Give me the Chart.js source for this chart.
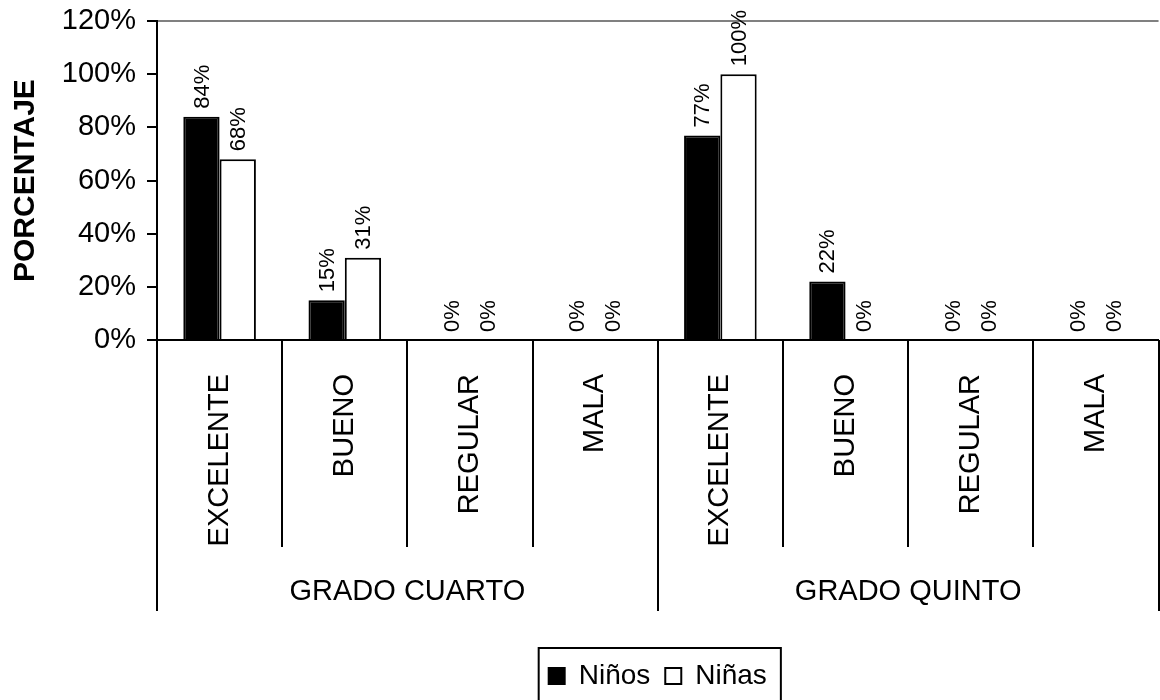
<!DOCTYPE html>
<html>
<head>
<meta charset="utf-8">
<script src="https://cdn.jsdelivr.net/npm/chart.js@4/dist/chart.umd.min.js"></script>
<style>
  html, body { margin: 0; padding: 0; background: #fff; overflow: hidden; }
  #wrap { width: 1165px; height: 700px; }
</style>
</head>
<body>
<div id="wrap"><canvas id="myChart" width="1165" height="700" role="img" aria-label="chart"></canvas></div>
<script>
// Datos del grafico
const categorias = ['EXCELENTE', 'BUENO', 'REGULAR', 'MALA', 'EXCELENTE', 'BUENO', 'REGULAR', 'MALA'];
const grupos = ['GRADO CUARTO', 'GRADO QUINTO'];
const ninos = [84, 15, 0, 0, 77, 22, 0, 0];
const ninas = [68, 31, 0, 0, 100, 0, 0, 0];
const yTicks = [0, 20, 40, 60, 80, 100, 120];

const FONT = 'Arial, "Liberation Sans", sans-serif';

// etiquetas de valor giradas encima de cada barra
const valueLabels = {
  id: 'valueLabels',
  afterDatasetsDraw(chart) {
    const ctx = chart.ctx;
    ctx.save();
    ctx.fillStyle = '#000';
    ctx.font = '22px ' + FONT;
    ctx.textAlign = 'left';
    ctx.textBaseline = 'middle';
    chart.data.datasets.forEach((ds, i) => {
      const meta = chart.getDatasetMeta(i);
      meta.data.forEach((bar, j) => {
        ctx.save();
        ctx.translate(bar.x, bar.y - 8);
        ctx.rotate(-Math.PI / 2);
        ctx.fillText(ds.data[j] + '%', 0, 1);
        ctx.restore();
      });
    });
    ctx.restore();
  }
};

// lineas bajo el eje, nombres de grupo y marco de la leyenda
const groupAxis = {
  id: 'groupAxis',
  afterDraw(chart) {
    const ctx = chart.ctx;
    const xs = chart.scales.x;
    const n = categorias.length;
    const w = xs.width / n;
    const perGroup = n / grupos.length;
    ctx.save();
    ctx.strokeStyle = '#000';
    ctx.lineWidth = 2;
    for (let i = 0; i <= n; i++) {
      const x = Math.round(xs.left + i * w);
      const bottom = (i % perGroup === 0) ? 611 : 547;
      ctx.beginPath();
      ctx.moveTo(x, xs.top);
      ctx.lineTo(x, bottom);
      ctx.stroke();
    }
    ctx.fillStyle = '#000';
    ctx.font = '29px ' + FONT;
    ctx.textAlign = 'center';
    ctx.textBaseline = 'middle';
    grupos.forEach((g, k) => {
      const cx = xs.left + (k + 0.5) * perGroup * w;
      ctx.fillText(g, cx, 592);
    });
    // marco de la leyenda
    const hb = chart.legend.legendHitBoxes;
    if (hb && hb.length) {
      const first = hb[0], last = hb[hb.length - 1];
      const cy = first.top + first.height / 2;
      ctx.lineWidth = 2;
      ctx.strokeRect(first.left - 10, cy - 28, last.left + last.width + 14 - (first.left - 10), 60);
    }
    ctx.restore();
  }
};

const ctx = document.getElementById('myChart').getContext('2d');
new Chart(ctx, {
  type: 'bar',
  data: {
    labels: categorias,
    datasets: [
      {
        label: 'Niños',
        data: ninos,
        backgroundColor: '#000',
        borderColor: '#000',
        borderWidth: 2
      },
      {
        label: 'Niñas',
        data: ninas,
        backgroundColor: '#fff',
        borderColor: '#000',
        borderWidth: 2
      }
    ]
  },
  options: {
    responsive: false,
    animation: false,
    layout: { autoPadding: false, padding: { top: 21, right: 4, left: 0, bottom: 0 } },
    datasets: { bar: { barPercentage: 1, categoryPercentage: 0.58 } },
    plugins: {
      tooltip: { enabled: false },
      legend: {
        position: 'bottom',
        fullSize: false,
        labels: {
          color: '#000',
          font: { family: FONT, size: 28 },
          boxWidth: 16,
          boxHeight: 16,
          padding: 15
        }
      }
    },
    scales: {
      x: {
        afterFit(s) { s.height = 307; },
        grid: { display: true, offset: true, color: 'rgba(0,0,0,0)', drawTicks: false },
        border: { display: true, color: '#000', width: 2 },
        ticks: {
          color: '#000',
          font: { family: FONT, size: 29 },
          minRotation: 90,
          maxRotation: 90,
          autoSkip: false,
          padding: 34
        }
      },
      y: {
        min: 0,
        max: 120,
        afterFit(s) { s.width = 157; },
        afterBuildTicks(s) { s.ticks = yTicks.map(v => ({ value: v })); },
        grid: {
          drawOnChartArea: true,
          color: c => (c.tick && c.tick.value === 120) ? '#808080' : 'rgba(0,0,0,0)',
          tickColor: '#000',
          lineWidth: 2,
          tickLength: 10
        },
        border: { display: true, color: '#000', width: 2 },
        ticks: {
          color: '#000',
          font: { family: FONT, size: 29, lineHeight: 0.7 },
          padding: 11,
          callback: v => v + '%'
        },
        title: {
          display: true,
          text: 'PORCENTAJE',
          color: '#000',
          font: { family: FONT, size: 30, weight: 'bold' },
          padding: { top: 8, bottom: 0 }
        }
      }
    }
  },
  plugins: [valueLabels, groupAxis]
});
</script>
</body>
</html>
